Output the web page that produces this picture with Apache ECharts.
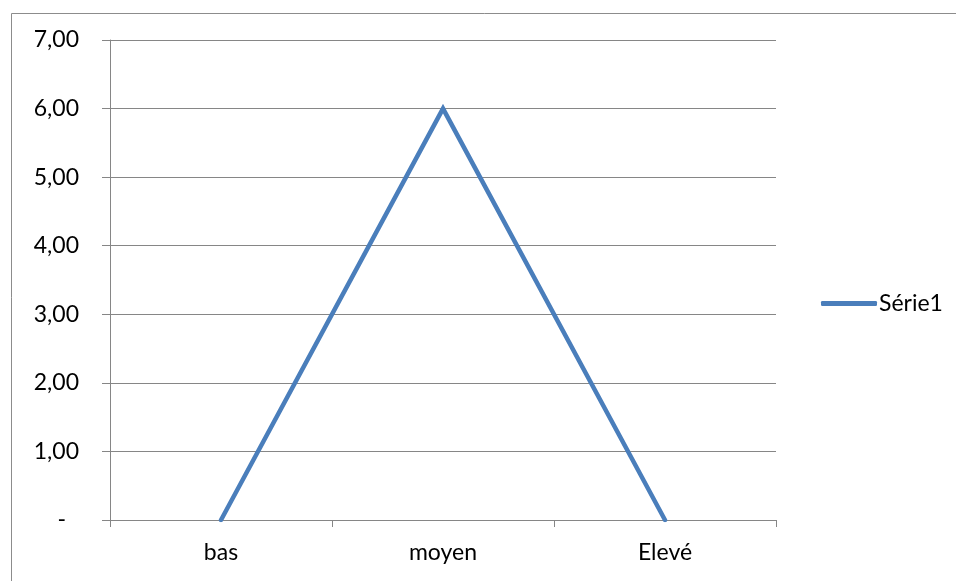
<!DOCTYPE html>
<html>
<head>
<meta charset="utf-8">
<script src="https://cdn.jsdelivr.net/npm/echarts@6/dist/echarts.min.js"></script>
<style>
  html, body { margin: 0; padding: 0; background: #fff; }
  #myChart { width: 956px; height: 581px; }
</style>
</head>
<body>
<div id="myChart"></div>
<script>
  // categories and values
  var categories = ['bas', 'moyen', 'Elevé'];
  var serie1 = [0, 6, 0];
  var seriesName = 'Série1';
  var yMin = 0, yMax = 7, yStep = 1;

  var gridColor = '#868686';
  var lineColor = '#4a7ebb';
  var font = 'Lato, "Noto Sans", sans-serif';
  var fs = 23;

  var myChart = echarts.init(document.getElementById('myChart'));
  var option = {
    backgroundColor: '#fff',
    animation: false,
    textStyle: { fontFamily: font, color: '#000' },
    graphic: [{
      type: 'rect',
      left: 9, top: 11,
      shape: { width: 1000, height: 1000 },
      style: { fill: 'none', stroke: '#8c8c8c', lineWidth: 1 },
      silent: true
    }],
    grid: { left: 110, right: 180, top: 40, bottom: 61 },
    legend: {
      data: [{ name: seriesName, icon: 'roundRect' }],
      left: 816,
      top: 287,
      itemWidth: 56,
      itemHeight: 5,
      itemGap: 2,
      itemStyle: { color: lineColor },
      textStyle: { fontSize: fs, color: '#000', fontFamily: font, padding: [0, 0, 0, -3] }
    },
    xAxis: {
      type: 'category',
      data: categories,
      boundaryGap: true,
      axisLine: { lineStyle: { color: gridColor, width: 1 } },
      axisTick: { show: true, length: 7, lineStyle: { color: gridColor } },
      axisLabel: { color: '#000', fontSize: fs, margin: 21, fontFamily: font },
      splitLine: { show: false }
    },
    yAxis: {
      type: 'value',
      min: yMin,
      max: yMax,
      interval: yStep,
      axisLine: { show: true, lineStyle: { color: gridColor, width: 1 } },
      axisTick: { show: true, length: 8, lineStyle: { color: gridColor } },
      axisLabel: {
        color: '#000',
        fontSize: fs,
        margin: 31,
        fontFamily: font,
        formatter: function (v) {
          if (v === 0) return '{d|-}';
          return v.toFixed(2).replace('.', ',');
        },
        rich: { d: { fontSize: fs, padding: [0, 13, 0, 0], fontFamily: font } }
      },
      splitLine: { show: true, lineStyle: { color: gridColor, width: 1 } }
    },
    series: [{
      name: seriesName,
      type: 'line',
      data: serie1,
      symbol: 'none',
      lineStyle: { color: lineColor, width: 4.5, cap: 'round', join: 'miter' },
      itemStyle: { color: lineColor }
    }]
  };
  myChart.setOption(option);
</script>
</body>
</html>
